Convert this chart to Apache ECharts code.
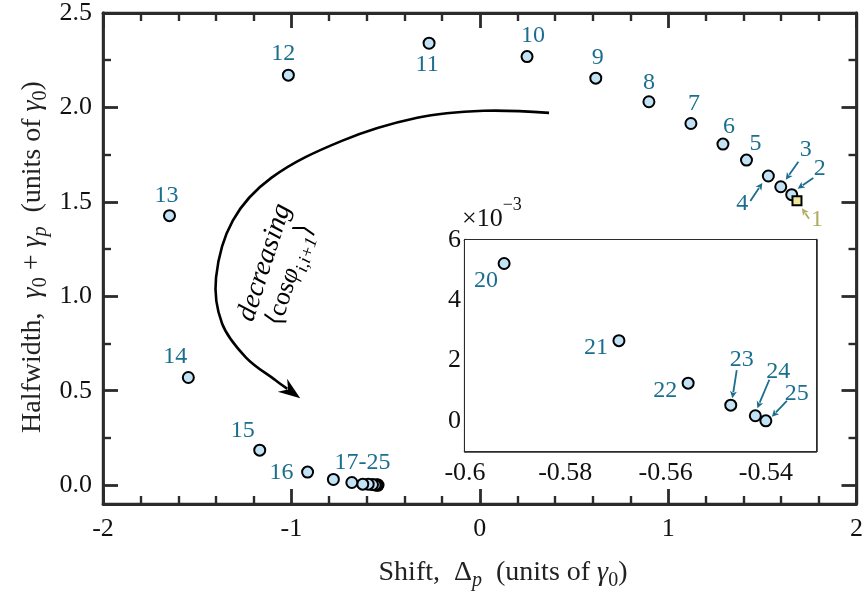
<!DOCTYPE html>
<html><head><meta charset="utf-8">
<script src="https://cdn.jsdelivr.net/npm/echarts@6/dist/echarts.min.js"></script>
<style>html,body{margin:0;padding:0;background:#fff}#c{width:866px;height:592px}</style>
</head><body><div id="c"></div>
<script>
// ---------------- data ----------------
// main panel: shift Δp and halfwidth γ0+γp (units of γ0), points 1..25
const mainShift = [1.684, 1.656, 1.598, 1.532, 1.416, 1.291, 1.121, 0.898, 0.616, 0.251, -0.269, -1.016, -1.647, -1.547, -1.168, -0.914, -0.777, -0.679, -0.621, -0.5922, -0.5693, -0.5555, -0.5470, -0.5421, -0.5400];
const mainWidth = [1.506, 1.538, 1.580, 1.637, 1.721, 1.806, 1.915, 2.030, 2.155, 2.269, 2.340, 2.171, 1.427, 0.570, 0.185, 0.069, 0.030, 0.014, 0.005, 0.0052, 0.0027, 0.0012, 0.0005, 0.0002, 0.0];
const mainLabels = ['1','2','3','4','5','6','7','8','9','10','11','12','13','14','15','16','17-25','','','','','','','',''];
// inset: points 20..25, halfwidth in units of 1e-3
const insetShift = [-0.5922, -0.5693, -0.5555, -0.5470, -0.5421, -0.5400];
const insetWidth = [5.22, 2.66, 1.25, 0.52, 0.17, 0.0];
const insetLabels = ['20','21','22','23','24','25'];
// tick values
const mainXTicks = [-2, -1, 0, 1, 2];
const mainXMinor = [-1.8, -1.6, -1.4, -1.2, -0.8, -0.6, -0.4, -0.2, 0.2, 0.4, 0.6, 0.8, 1.2, 1.4, 1.6, 1.8];
const mainYTicks = [0, 0.5, 1.0, 1.5, 2.0, 2.5];
const mainYMinor = [0.25, 0.75, 1.25, 1.75, 2.25];
const insetXTicks = [-0.6, -0.58, -0.56, -0.54];
const insetXMinor = [-0.59, -0.57, -0.55];
const insetYTicks = [0, 2, 4, 6];
const insetYMinor = [1, 3, 5];

// ---------------- layout / style ----------------
const SERIF = 'Liberation Serif';
const AXC = '#2b2b2b';
const TEAL = '#1b6e8e';
const OLIVE = '#b0ab62';
const FILL = '#c2e3f6';
const SQFILL = '#ece79c';
// label offsets (px) relative to markers
const mainLabelOffsets = [[20,19],[28,-26],[25,-37],[-26,28],[9,-16],[6,-17],[3,-20],[0,-19],[2,-20],[6,-21],[-2,21],[-5,-21],[-3,-20],[-13,-21],[-17,-19],[-26,1],[29,-17]];
const insetLabelOffsets = [[-18,17],[-23,7],[-23,8],[11,-45],[23,-44],[31,-27]];
const mainArrows = [{i:0,tail:[12,18],head:[5,7.5],color:OLIVE},{i:1,tail:[21.6,-16.7],head:[6,-6]},{i:2,tail:[17.6,-25],head:[5,-7]},{i:3,tail:[-18,25],head:[-6,7]}];
const insetArrows = [{i:3,tail:[6,-35],head:[1.6,-7]},{i:4,tail:[14,-36],head:[2,-7.5]},{i:5,tail:[21,-20],head:[6,-4]}];
// big curved arrow path, in main data coordinates (last = tip)
const bigArrowPath = [[0.368,1.971],[0.021,1.982],[-0.332,1.945],[-0.732,1.823],[-1.105,1.628],[-1.311,1.401],[-1.400,1.099],[-1.368,0.856],[-1.242,0.677],[-1.084,0.555],[-0.953,0.460]];
const bigTextPos = [[-1.142,1.179],[-1.016,1.115]];

function axis(grid, pos, min, max, ticks, len, lw, showLabel, fmt, margin) {
  return {
    type:'value', gridIndex:grid, position:pos, min:min, max:max,
    axisLine:{show:true, onZero:false, lineStyle:{color:AXC, width:lw}},
    axisTick:{show:true, inside:true, length:len, customValues:ticks, lineStyle:{color:AXC, width:lw}},
    axisLabel:{show:showLabel, customValues:ticks, formatter:fmt, fontFamily:SERIF, fontSize:26, color:'#111', margin:margin||8},
    splitLine:{show:false}, minorTick:{show:false}, minorSplitLine:{show:false}
  };
}
const f1 = v => v.toFixed(1);
const fi = v => String(Math.round(v*100)/100);

const xAxes = [
  axis(0,'bottom',-2,2,mainXTicks,15,2.8,true,fi,12),
  axis(0,'bottom',-2,2,mainXMinor,8,2.4,false),
  axis(0,'top',-2,2,mainXTicks,15,2.8,false),
  axis(0,'top',-2,2,mainXMinor,8,2.4,false),
  axis(1,'bottom',-0.6,-0.53,insetXTicks,8,2.5,true,fi,9),
  axis(1,'bottom',-0.6,-0.53,insetXMinor,4,2.2,false),
  axis(1,'top',-0.6,-0.53,insetXTicks,8,2.5,false),
  axis(1,'top',-0.6,-0.53,insetXMinor,4,2.2,false)
];
const yAxes = [
  axis(0,'left',-0.1,2.5,mainYTicks,15,2.8,true,f1,11),
  axis(0,'left',-0.1,2.5,mainYMinor,8,2.4,false),
  axis(0,'right',-0.1,2.5,mainYTicks,15,2.8,false),
  axis(0,'right',-0.1,2.5,mainYMinor,8,2.4,false),
  axis(1,'left',-1,6,insetYTicks,8,2.5,true,fi,4),
  axis(1,'left',-1,6,insetYMinor,4,2.2,false),
  axis(1,'right',-1,6,insetYTicks,8,2.5,false),
  axis(1,'right',-1,6,insetYMinor,4,2.2,false)
];

function pointItem(x, y, text, off) {
  const it = {value:[x,y]};
  if (text) it.label = {show:true, formatter:text, position:'inside', offset:off, color:TEAL,
    fontFamily:SERIF, fontSize:24, align:'center', verticalAlign:'middle'};
  return it;
}
const circleData = [];
for (let k = mainShift.length-1; k >= 1; k--) circleData.push(pointItem(mainShift[k], mainWidth[k], mainLabels[k], mainLabelOffsets[k]));
const sqItem = pointItem(mainShift[0], mainWidth[0], mainLabels[0], mainLabelOffsets[0]);
sqItem.label.color = OLIVE;
const insetData = [];
for (let k = insetShift.length-1; k >= 0; k--) insetData.push(pointItem(insetShift[k], insetWidth[k], insetLabels[k], insetLabelOffsets[k]));

const chart = echarts.init(document.getElementById('c'));
chart.setOption({
  animation:false,
  backgroundColor:'#fff',
  grid:[
    {left:103, top:12, width:760, height:492, show:false},
    {left:465, top:240, width:351, height:211, show:true, backgroundColor:'#fff', borderWidth:0, z:5}
  ],
  xAxis:xAxes, yAxis:yAxes,
  series:[
    {type:'scatter', xAxisIndex:0, yAxisIndex:0, symbol:'circle', symbolSize:11, data:circleData,
      itemStyle:{color:FILL, borderColor:'#000', borderWidth:2, opacity:1}, z:3},
    {type:'scatter', xAxisIndex:0, yAxisIndex:0, symbol:'rect', symbolSize:9, data:[sqItem],
      itemStyle:{color:SQFILL, borderColor:'#000', borderWidth:2, opacity:1}, z:4},
    {type:'scatter', xAxisIndex:4, yAxisIndex:4, symbol:'circle', symbolSize:11, data:insetData,
      itemStyle:{color:FILL, borderColor:'#000', borderWidth:2, opacity:1}, z:6}
  ]
});

// ---------------- annotations ----------------
const G = [];
function arrow(T, H, color, lw, L, W) {
  const dx = H[0]-T[0], dy = H[1]-T[1], d = Math.hypot(dx,dy), ux = dx/d, uy = dy/d;
  const bx = H[0]-ux*L, by = H[1]-uy*L;
  G.push({type:'line', z:20, shape:{x1:T[0], y1:T[1], x2:bx+ux*1, y2:by+uy*1}, style:{stroke:color, lineWidth:lw}});
  G.push({type:'polygon', z:20, shape:{points:[[H[0],H[1]],[bx-uy*W,by+ux*W],[bx+ux*L*0.25,by+uy*L*0.25],[bx+uy*W,by-ux*W]]}, style:{fill:color}});
}
mainArrows.forEach(a => {
  const p = chart.convertToPixel({xAxisIndex:0, yAxisIndex:0}, [mainShift[a.i], mainWidth[a.i]]);
  arrow([p[0]+a.tail[0], p[1]+a.tail[1]], [p[0]+a.head[0], p[1]+a.head[1]], a.color||TEAL, 1.8, 7, 3.5);
});
insetArrows.forEach(a => {
  const p = chart.convertToPixel({xAxisIndex:4, yAxisIndex:4}, [insetShift[a.i], insetWidth[a.i]]);
  arrow([p[0]+a.tail[0], p[1]+a.tail[1]], [p[0]+a.head[0], p[1]+a.head[1]], TEAL, 1.8, 7, 3.5);
});
// big curved arrow
const bp = bigArrowPath.map(q => chart.convertToPixel({xAxisIndex:0, yAxisIndex:0}, q));
const tip = bp[bp.length-1], prev = bp[bp.length-2];
{
  const dx = tip[0]-prev[0], dy = tip[1]-prev[1], d = Math.hypot(dx,dy), ux = dx/d, uy = dy/d;
  const L = 22, W = 8;
  const bx = tip[0]-ux*L, by = tip[1]-uy*L;
  const pts = bp.slice(0, bp.length-1).concat([[bx+ux*6, by+uy*6]]);
  G.push({type:'polyline', z:20, shape:{points:pts, smooth:0.35}, style:{stroke:'#000', lineWidth:2.6, fill:null}});
  G.push({type:'polygon', z:21, shape:{points:[[tip[0],tip[1]],[bx-uy*W,by+ux*W],[bx+ux*7,by+uy*7],[bx+uy*W,by-ux*W]]}, style:{fill:'#000'}});
}
const rot = 72*Math.PI/180;
const t1 = chart.convertToPixel({xAxisIndex:0, yAxisIndex:0}, bigTextPos[0]);
const t2 = chart.convertToPixel({xAxisIndex:0, yAxisIndex:0}, bigTextPos[1]);
G.push({type:'text', z:22, x:t1[0], y:t1[1], rotation:rot, style:{text:'decreasing', fontFamily:SERIF, fontSize:28, fontStyle:'italic', fill:'#000', align:'center', verticalAlign:'middle'}});
G.push({type:'text', z:22, x:t2[0], y:t2[1], rotation:rot, style:{
  text:'{a|⟨cos}{i|φ}{s|i,i+1}{a|⟩}', align:'center', verticalAlign:'middle',
  rich:{
    a:{fontFamily:SERIF, fontSize:26, fill:'#000', lineHeight:30, verticalAlign:'bottom'},
    i:{fontFamily:SERIF, fontSize:26, fontStyle:'italic', fill:'#000', lineHeight:30, verticalAlign:'bottom'},
    s:{fontFamily:SERIF, fontSize:18, fontStyle:'italic', fill:'#000', lineHeight:18, verticalAlign:'bottom', padding:[0,0,-6,0]}
  }}});
// x10^-3
G.push({type:'text', z:22, x:462, y:217, style:{
  text:'{a|×10}{b|−3}', align:'left', verticalAlign:'middle',
  rich:{a:{fontFamily:SERIF, fontSize:26, fill:'#111', lineHeight:30, verticalAlign:'bottom'},
        b:{fontFamily:SERIF, fontSize:18, fill:'#111', lineHeight:30, verticalAlign:'top', padding:[-6,0,0,0]}}}});
// axis titles
const richT = {
  a:{fontFamily:SERIF, fontSize:28, fill:'#222', lineHeight:34, verticalAlign:'bottom'},
  g:{fontFamily:SERIF, fontSize:28, fontStyle:'italic', fill:'#222', lineHeight:34, verticalAlign:'bottom'},
  s:{fontFamily:SERIF, fontSize:20, fontStyle:'italic', fill:'#222', lineHeight:19, verticalAlign:'bottom', padding:[0,0,-4,0]},
  n:{fontFamily:SERIF, fontSize:20, fill:'#222', lineHeight:19, verticalAlign:'bottom', padding:[0,0,-4,0]}
};
G.push({type:'text', z:22, x:503, y:570, style:{text:'{a|Shift,  Δ}{s|p}{a|  (units of }{g|γ}{n|0}{a|)}', align:'center', verticalAlign:'middle', rich:richT}});
G.push({type:'text', z:22, x:30, y:257, rotation:Math.PI/2, style:{text:'{a|Halfwidth,  }{g|γ}{n|0}{a| + }{g|γ}{s|p}{a|  (units of }{g|γ}{n|0}{a|)}', align:'center', verticalAlign:'middle', rich:richT}});
chart.setOption({graphic:G});
</script>
</body></html>
